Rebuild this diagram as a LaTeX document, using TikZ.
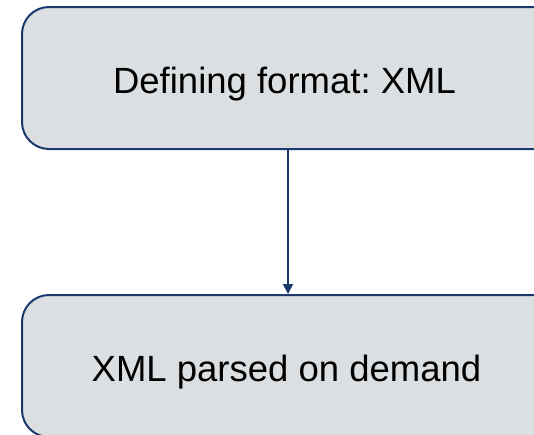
\documentclass[tikz,border=0pt]{standalone}
\usepackage{fontspec}
\setmainfont{Liberation Sans}
\usetikzlibrary{arrows.meta}
\definecolor{boxfill}{HTML}{DCDFE1}
\definecolor{navy}{HTML}{1A3A6E}
\frenchspacing
\begin{document}
\begin{tikzpicture}[x=1pt,y=-1pt,
  stepbox/.style={draw=navy, line width=2pt, fill=boxfill, rounded corners=27pt,
    minimum width=580pt, minimum height=142pt, inner sep=0pt},
  steptext/.style={font=\fontsize{36.5}{40}\selectfont, inner sep=0pt,
    text height=26pt, text depth=0pt, anchor=base},
  link/.style={draw=navy, line width=1.8pt, -{Triangle[length=10pt,width=10pt]}}]
  \useasboundingbox (0,0) rectangle (534,434);
  \clip (0,0) rectangle (534,434);
  \fill[white] (0,0) rectangle (534,434);
  % the boxes run on past the right edge
  \node[stepbox] (define) at (312,78) {};
  \node[stepbox] (parse) at (312,366) {};
  \node[steptext] (defineText) at (284.5,93) {Defining format: XML};
  \node[steptext] (parseText) at (286.5,381) {XML parsed on demand};
  \coordinate (tap) at (288,0);
  \draw[link] (define.south -| tap) -- (parse.north -| tap);
\end{tikzpicture}
\end{document}
